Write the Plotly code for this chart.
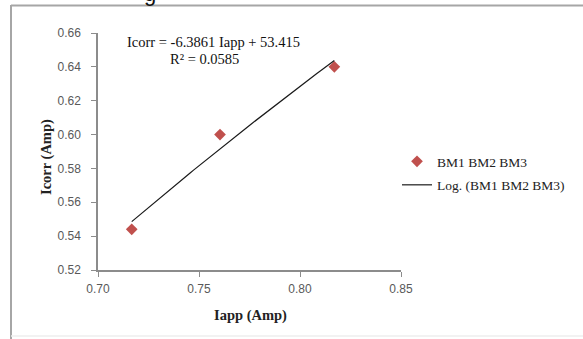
import numpy as np
import plotly.graph_objects as go

# Data
iapp = [0.7167, 0.7604, 0.8170]
icorr = [0.544, 0.600, 0.640]
series_name = "BM1 BM2 BM3"
trend_name = "Log. (BM1 BM2 BM3)"
x_ticks = [0.70, 0.75, 0.80, 0.85]
y_ticks = [0.52, 0.54, 0.56, 0.58, 0.60, 0.62, 0.64, 0.66]
eq_text = "Icorr = -6.3861 Iapp + 53.415"
r2_text = "R² = 0.0585"

# Logarithmic trendline fitted to the data
a, b = np.polyfit(np.log(iapp), icorr, 1)
xt = np.linspace(min(iapp), max(iapp), 60)
yt = a * np.log(xt) + b

W, H = 583, 339
L, R, T, B = 98, 401, 33, 270  # plot area in pixels
pw, ph = R - L, B - T

def px(x):
    return (x - L) / pw

def py(y):
    return (B - y) / ph

fig = go.Figure()
fig.add_trace(go.Scatter(
    x=iapp, y=icorr, mode="markers", name=series_name,
    marker=dict(symbol="diamond", size=9, color="#C0504D", line=dict(width=0)),
    legendgroup="a"))
fig.add_trace(go.Scatter(
    x=xt, y=yt, mode="lines", name=trend_name,
    line=dict(color="#1a1a1a", width=1.2), legendgroup="b"))

axis_common = dict(
    showgrid=False, zeroline=False, showline=True, linecolor="#8c8c8c", linewidth=1.5,
    ticks="outside", ticklen=5, tickcolor="#8c8c8c", tickwidth=1,
    tickfont=dict(family="Liberation Sans, Arial", size=12, color="#595959"),
    tickformat=".2f")

fig.update_xaxes(range=[0.70, 0.85], tickvals=x_ticks, ticklabelstandoff=2, **axis_common)
fig.update_yaxes(range=[0.52, 0.66], tickvals=y_ticks, ticklabelstandoff=8, **axis_common)

def note(x, y, text, size=14.5, color="#111", **kw):
    fig.add_annotation(x=px(x), y=py(y), xref="paper", yref="paper", text=text,
                       xanchor="center", yanchor="middle", showarrow=False,
                       font=dict(family="Liberation Serif", size=size, color=color), **kw)

note(213, 42, eq_text)
note(204, 59, r2_text)
note(250, 315, "<b>Iapp (Amp)</b>", color="#222")
note(46, 157, "<b>Icorr (Amp)</b>", color="#222", textangle=-90)

# cut-off caption fragment at the very top (as in the reference)
fig.add_annotation(x=px(150), y=py(7), xref="paper", yref="paper", text="g",
                   xanchor="center", yanchor="bottom", showarrow=False, borderpad=0,
                   font=dict(family="Liberation Sans", size=22, color="#111"))

# chart-area frame
frame = dict(type="line", xref="paper", yref="paper", line=dict(color="#a6a6a6", width=2))
fig.add_shape(x0=px(11), x1=px(11), y0=py(5), y1=py(339), **frame)
fig.add_shape(x0=px(11), x1=px(583), y0=py(5.5), y1=py(5.5), **frame)
fig.add_shape(type="line", xref="paper", yref="paper", x0=px(11), x1=px(583), y0=py(336), y1=py(336),
              line=dict(color="#eeeeee", width=1.5))

fig.update_layout(
    width=W, height=H,
    margin=dict(l=L, r=W - R, t=T, b=H - B),
    paper_bgcolor="white", plot_bgcolor="white",
    showlegend=True,
    legend=dict(x=px(397), y=py(146), xanchor="left", yanchor="top",
                font=dict(family="Liberation Serif", size=13.5, color="#222"),
                tracegroupgap=3, bgcolor="rgba(0,0,0,0)"),
)

fig.write_html("out.html")
